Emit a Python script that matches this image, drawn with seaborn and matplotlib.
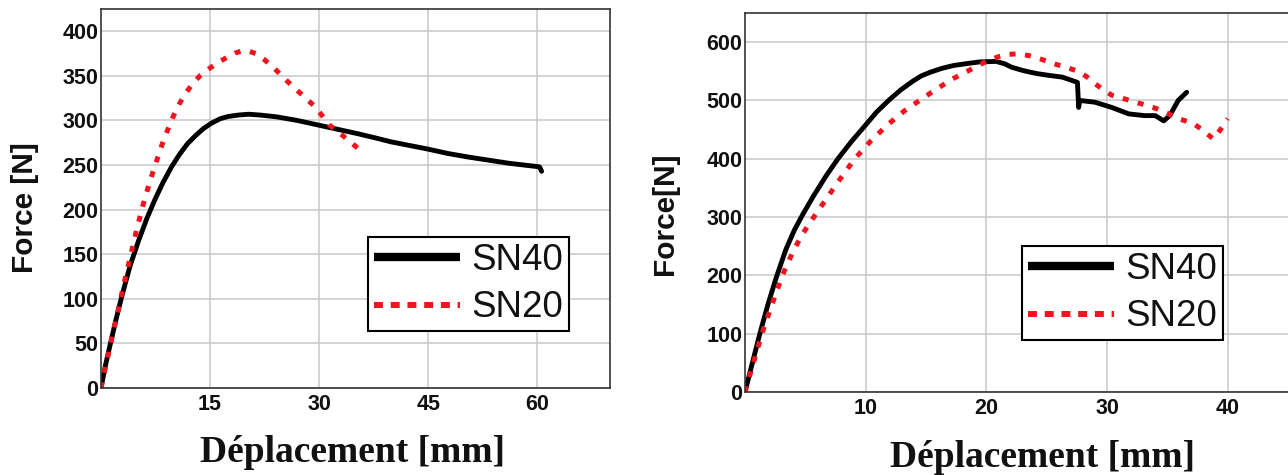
import matplotlib
matplotlib.use("Agg")
import matplotlib.pyplot as plt
from matplotlib.lines import Line2D
import seaborn as sns

# Series names shown in the legends
series_names = ["SN40", "SN20"]

# Left test: force [N] vs displacement [mm]
left_sn40_x = [0, 0.6, 1.3, 2.1, 2.9, 4.0, 5.2, 6.3, 7.4, 8.5, 9.7, 10.8, 11.9,
               13.0, 14.1, 15.2, 16.4, 17.5, 18.8, 20.3, 22.0, 24.2, 27.0, 29.8,
               32.6, 35.4, 37.7, 39.9, 42.4, 44.9, 47.7, 50.5, 53.3, 56.1, 58.2,
               60.3, 60.6]
left_sn40_y = [0, 25, 50, 78, 104, 137, 166, 190, 211, 230, 248, 262, 274,
               283, 291, 297, 302, 304.5, 306, 307, 306, 304, 300, 295,
               290, 285, 280.5, 276, 272, 268, 263, 259, 255.5, 252, 250,
               248, 243]

left_sn20_x = [0, 0.95, 1.6, 2.35, 3.1, 4.0, 4.8, 5.7, 6.7, 7.7, 8.4, 9.1, 9.9,
               10.8, 11.6, 12.4, 13.7, 15.2, 16.3, 17.4, 18.4, 19.4, 20.4, 21.3,
               22.5, 23.9, 25.1, 26.4, 27.9, 29.5, 31.4, 33.4, 35.9]
left_sn20_y = [0, 36, 60, 87, 115, 146, 174, 203, 231, 256, 273, 288, 304,
               319, 330, 339, 351, 360, 366, 371, 375.5, 378, 377.5, 375,
               368, 358, 348, 338, 327, 315, 295, 282, 265]

# Right test: force [N] vs displacement [mm]
right_sn40_x = [0, 0.6, 1.23, 1.9, 2.6, 3.4, 4.1, 4.8, 5.7, 6.7, 7.7, 8.8, 10.0,
                10.9, 11.9, 12.9, 13.9, 14.6, 15.3, 16.3, 17.3, 18.3, 19.4, 20.8,
                21.5, 22.1, 23.1, 24.2, 25.2, 26.3, 27.55, 27.65, 27.75, 29.0,
                30.4, 31.8, 33.1, 34.0, 34.7, 35.2, 35.9, 36.6]
right_sn40_y = [0, 49, 100, 150, 197, 245, 278, 305, 337, 370, 400, 429, 458,
                480, 500, 518, 533, 542, 548, 555, 560, 563, 566, 567,
                563, 557, 551, 546, 543, 540, 531, 488, 500, 497,
                488, 477, 474, 474, 465, 474, 500, 514]

right_sn20_x = [0, 0.7, 1.4, 2.2, 3.1, 4.0, 4.8, 5.7, 6.7, 7.9, 9.1, 10.4, 11.8,
                13.2, 14.6, 15.9, 17.3, 18.7, 20.0, 21.0, 21.8, 22.6, 23.5, 24.5,
                25.6, 26.6, 27.6, 28.3, 29.0, 29.7, 30.4, 31.4, 32.4, 33.2, 34.1,
                35.0, 35.9, 36.5, 37.2, 38.0, 38.8, 39.4, 40.0]
right_sn20_y = [0, 50, 100, 148, 200, 242, 272, 300, 330, 366, 400, 430, 458,
                482, 502, 520, 538, 553, 567, 575, 579, 580, 577, 571,
                563, 557, 550, 541, 529, 518, 509, 503, 497, 492, 486,
                478, 469, 465, 460, 448, 434, 450, 469]

left_xticks = [15, 30, 45, 60]
left_yticks = [0, 50, 100, 150, 200, 250, 300, 350, 400]
right_xticks = [10, 20, 30, 40]
right_yticks = [0, 100, 200, 300, 400, 500, 600]

RED = "#f0141e"
DOTS = (0, (1.2, 1.9))

sns.set_style("whitegrid")
plt.rcParams["font.family"] = ["Liberation Sans", "DejaVu Sans"]

W, H = 1288, 475
fig = plt.figure(figsize=(W / 100, H / 100), dpi=100)
fig.patch.set_facecolor("white")
ax1 = fig.add_axes([101 / W, 87 / H, 509 / W, 379 / H])
ax2 = fig.add_axes([745 / W, 83 / H, 543 / W, 379 / H])

panels = [
    (ax1, left_sn40_x, left_sn40_y, left_sn20_x, left_sn20_y,
     (0, 70), (0, 425), left_xticks, left_yticks, "Force [N]",
     (0.494, -0.1953), (-0.1336, 0.476), (368, 237)),
    (ax2, right_sn40_x, right_sn40_y, right_sn20_x, right_sn20_y,
     (0, 45), (0, 650), right_xticks, right_yticks, "Force[N]",
     (0.547, -0.198), (-0.1326, 0.471), (1022, 246)),
]

for (ax, x40, y40, x20, y20, xlim, ylim, xt, yt, ylab,
     xlab_pos, ylab_pos, leg_pos) in panels:
    sns.lineplot(x=x40, y=y40, ax=ax, color="black", lw=3.5,
                 solid_joinstyle="round", sort=False, estimator=None)
    sns.lineplot(x=x20, y=y20, ax=ax, color=RED, lw=3.6, linestyle=DOTS,
                 dash_capstyle="butt", sort=False, estimator=None)
    ax.set_xlim(*xlim)
    ax.set_ylim(*ylim)
    ax.set_xticks(xt)
    ax.set_yticks(yt)
    ax.grid(True, color="#c8c8c8", lw=1.1)
    ax.set_axisbelow(True)
    ax.tick_params(axis="both", length=0, labelsize=15.5, colors="#111111")
    ax.tick_params(axis="x", pad=4.5)
    ax.tick_params(axis="y", pad=2)
    for lab in ax.get_xticklabels() + ax.get_yticklabels():
        lab.set_fontweight("bold")
    for sp in ax.spines.values():
        sp.set_color("#333333")
        sp.set_linewidth(1.2)

    ax.set_xlabel("Déplacement [mm]", family=["Liberation Serif", "DejaVu Serif"],
                  fontweight="bold", fontsize=27, va="baseline", color="#111111")
    ax.xaxis.set_label_coords(*xlab_pos)
    ax.set_ylabel(ylab, fontweight="bold", fontsize=21.5, va="baseline",
                  color="#111111")
    ax.yaxis.set_label_coords(*ylab_pos)

    handles = [
        Line2D([0], [0], color="black", lw=6, solid_capstyle="butt"),
        Line2D([0], [0], color=RED, lw=4.3, linestyle=(0, (1.5, 1.3)),
               dash_capstyle="butt"),
    ]
    leg = ax.legend(handles, series_names, loc="upper left",
                    bbox_to_anchor=(leg_pos[0] / W, 1 - leg_pos[1] / H),
                    bbox_transform=fig.transFigure, borderaxespad=0,
                    fontsize=26.5, handlelength=2.36, handletextpad=0.3,
                    borderpad=0.15, labelspacing=0.35, frameon=True,
                    fancybox=False, edgecolor="black", framealpha=1)
    leg.get_frame().set_linewidth(1.5)
    for t in leg.get_texts():
        t.set_color("#111111")

ax2.spines["right"].set_visible(False)

fig.savefig("out.png", dpi=100, facecolor="white")
